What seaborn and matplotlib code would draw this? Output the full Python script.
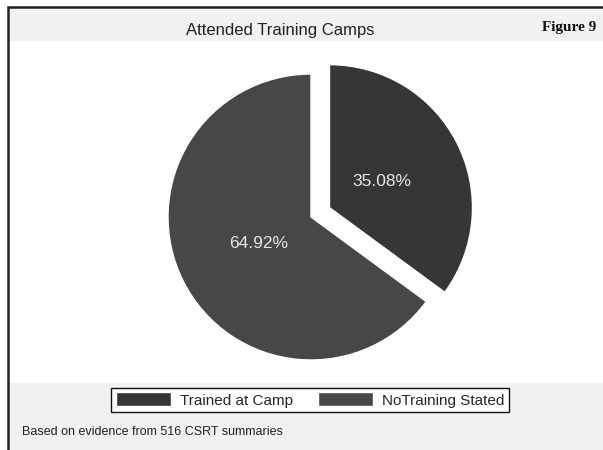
import seaborn as sns
import matplotlib.pyplot as plt
from matplotlib.patches import Rectangle

# Data
labels = ["Trained at Camp", "NoTraining Stated"]
shares = [35.08, 64.92]
colors = ["#363636", "#474747"]
explode = [0.145, 0.0]

sns.set_style("white")
plt.rcParams['font.family'] = ['Liberation Sans', 'DejaVu Sans']

fig = plt.figure(figsize=(6.03, 4.5), dpi=100)
fig.patch.set_facecolor("white")

# light grey bands at the top and bottom, black frame on the left/top
W, H = 603.0, 450.0
fig.patches.append(Rectangle((8 / W, 1 - 41 / H), 1, 34 / H, transform=fig.transFigure,
                             facecolor="#f1f1f1", edgecolor="none", zorder=0))
fig.patches.append(Rectangle((8 / W, 0), 1, 1 - 383 / H, transform=fig.transFigure,
                             facecolor="#f1f1f1", edgecolor="none", zorder=0))
fig.patches.append(Rectangle((8 / W, -0.1), 1.2, 1.1 - 7 / H, transform=fig.transFigure,
                             facecolor="none", edgecolor="#222222", linewidth=1.8, zorder=1))

ax = fig.add_axes([146 / W, 1 - 382 / H, 330 / W, 330 / H])
wedges, texts, autotexts = ax.pie(
    shares, colors=colors, explode=explode, startangle=90, counterclock=False,
    autopct="%.2f%%", pctdistance=0.41,
    textprops={"color": "#e6e6e6", "fontsize": 12.5},
)
ax.set_xlim(-165 / 143, 165 / 143)
ax.set_ylim(-165 / 143, 165 / 143)
ax.set_aspect("equal")
ax.axis("off")

fig.text(280 / W, 1 - 30 / H, "Attended Training Camps", ha="center", va="center",
         fontsize=12, color="#222222")
fig.text(569 / W, 1 - 27 / H, "Figure 9", ha="center", va="center", fontsize=11,
         fontweight="bold", family="Liberation Serif", color="#111111")

leg = fig.legend(wedges, labels, loc="center", bbox_to_anchor=(310 / W, 1 - 400 / H),
                 ncol=2, fontsize=11, frameon=True, fancybox=False, edgecolor="#111111",
                 handlelength=3.6, handleheight=1.0, columnspacing=1.6, handletextpad=0.6,
                 borderpad=0.3)
leg.get_frame().set_linewidth(1.0)
leg.get_frame().set_facecolor("white")
leg.get_frame().set_alpha(1)

fig.text(22 / W, 1 - 432 / H, "Based on evidence from 516 CSRT summaries", ha="left",
         va="center", fontsize=9, color="#222222")

fig.savefig("out.png", dpi=100)
